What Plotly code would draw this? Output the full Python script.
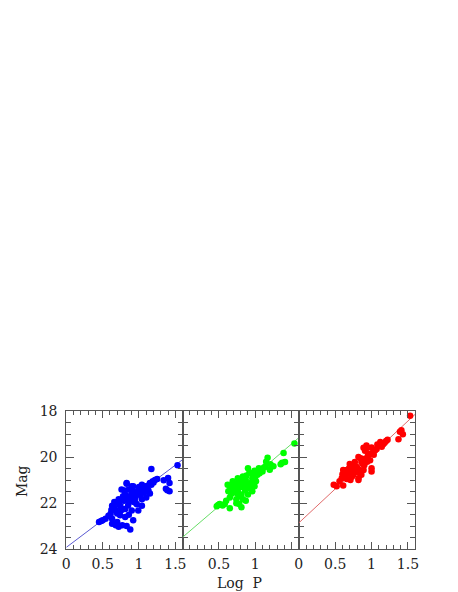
import plotly.graph_objects as go

# ---- data ----
blue_logp = [1.53, 1.17, 1.40, 1.34, 1.42, 1.37, 1.42, 1.22, 1.17, 1.15, 1.08, 1.04, 0.99, 1.10, 1.04, 0.97,
             0.90, 0.92, 0.83, 0.76, 0.81, 0.88, 0.95, 0.86, 0.79, 0.72, 0.68, 0.63, 0.74, 0.81, 0.90, 0.99,
             0.68, 0.61, 0.74, 0.81, 0.92, 0.63, 0.70, 0.50, 0.54, 0.77, 0.83, 0.88, 0.72, 0.63, 1.04, 1.10,
             1.15, 1.01, 0.86, 0.45, 0.48, 0.68, 0.92, 1.00, 1.06, 1.12, 0.95, 0.88, 0.78, 0.72, 0.66, 0.76,
             0.85, 0.93, 1.02, 1.13, 1.20, 0.80, 0.70, 0.58, 0.86, 0.97, 1.07, 0.62, 0.66, 0.84, 0.90, 0.75,
             1.25, 1.39, 1.19, 0.83]
blue_mag = [20.35, 20.52, 20.91, 21.01, 21.13, 21.38, 21.48, 20.99, 21.20, 21.58, 21.34, 21.20, 21.44, 21.76, 21.83, 21.62,
            21.27, 21.48, 21.13, 21.41, 21.62, 21.69, 21.97, 21.97, 21.90, 21.83, 21.97, 22.11, 22.11, 22.25, 22.32, 22.32,
            22.32, 22.46, 22.53, 22.60, 22.74, 22.68, 22.82, 22.74, 22.68, 22.96, 22.99, 23.14, 23.03, 22.89, 22.11, 21.27,
            21.13, 21.55, 21.41, 22.82, 22.78, 22.96, 21.27, 21.30, 21.38, 21.24, 21.75, 21.85, 21.70, 22.00, 22.20, 22.30,
            22.10, 21.95, 21.65, 21.45, 21.10, 21.45, 22.45, 22.55, 22.50, 22.05, 21.55, 22.30, 21.95, 21.80, 21.55, 22.20,
            20.95, 21.44, 21.05, 21.16]

green_logp = [1.54, 1.39, 1.35, 1.41, 1.37, 1.17, 1.21, 1.14, 1.05, 1.10, 0.99, 1.03, 0.90, 0.92, 0.96, 1.01,
              0.99, 0.94, 0.87, 0.83, 0.76, 0.78, 0.85, 0.74, 0.69, 0.65, 0.63, 0.69, 0.76, 0.81, 0.90, 0.96,
              0.65, 0.74, 0.83, 0.78, 0.74, 0.60, 0.58, 0.51, 0.47, 0.65, 0.81, 0.87, 1.08, 1.12, 0.95, 0.88,
              0.80, 0.72, 0.70, 0.80, 0.86, 0.92, 1.00, 1.06, 0.67, 0.78, 0.84, 0.73, 1.15, 1.25, 0.62, 0.97,
              0.88, 0.76, 1.20, 1.04, 0.55, 0.49]
green_mag = [19.41, 19.82, 20.31, 20.21, 20.25, 20.03, 20.31, 20.42, 20.49, 20.63, 20.59, 20.77, 20.49, 20.67, 20.92, 21.05,
             21.27, 21.13, 20.99, 20.84, 20.92, 21.13, 21.27, 21.27, 21.05, 21.27, 21.48, 21.55, 21.48, 21.62, 21.62, 21.48,
             21.76, 21.83, 21.83, 22.04, 22.00, 21.90, 22.04, 22.04, 22.14, 22.22, 22.18, 21.90, 20.55, 20.45, 20.70, 20.80,
             21.00, 21.15, 21.35, 21.30, 21.45, 21.35, 20.85, 20.70, 21.60, 21.70, 21.10, 21.40, 20.20, 20.40, 21.20, 21.05,
             21.20, 21.60, 20.55, 20.62, 22.10, 22.08]

red_logp = [1.53, 1.41, 1.43, 1.37, 1.39, 1.20, 1.16, 1.11, 1.18, 1.07, 1.00, 1.02, 0.93, 0.91, 0.95, 0.91,
            0.98, 0.86, 0.82, 0.77, 0.79, 0.75, 0.71, 0.66, 0.61, 0.68, 0.75, 0.84, 0.89, 1.00, 1.00, 0.64,
            0.59, 0.71, 0.82, 0.86, 0.48, 0.52, 0.61, 0.82, 1.14, 1.05, 0.97, 0.88, 0.80, 0.72, 0.70, 0.76,
            0.83, 0.90, 0.94, 1.08, 1.12, 1.22, 0.66, 0.60, 0.73, 0.78, 0.85, 0.93, 0.89, 1.03, 0.56, 0.69]
red_mag = [18.21, 18.83, 19.01, 19.23, 18.90, 19.30, 19.44, 19.51, 19.38, 19.65, 19.58, 19.79, 19.62, 19.72, 19.93, 20.07,
           20.14, 20.21, 20.00, 20.21, 20.42, 20.56, 20.42, 20.56, 20.56, 20.70, 20.77, 20.70, 20.56, 20.49, 20.63, 20.84,
           20.92, 20.99, 20.92, 20.77, 21.20, 21.27, 21.23, 20.99, 19.55, 19.70, 19.85, 20.30, 20.45, 20.60, 20.30, 20.35,
           20.55, 20.35, 20.20, 19.45, 19.35, 19.25, 20.95, 20.75, 20.85, 20.65, 20.05, 19.50, 19.60, 19.90, 21.05, 20.50]

fit_logp = [0.0, 1.6]
blue_fit = [23.92, 20.11]
green_fit = [23.48, 19.16]
red_fit = [22.86, 18.14]

x_ticks = [0, 0.5, 1, 1.5]
x_text_outer = ["0", "0.5", "1", "1.5"]
x_text_middle = ["", "0.5", "1", ""]
y_ticks = [18, 20, 22, 24]
y_text = ["18", "20", "22", "24"]

# ---- figure ----
XOFF = 8  # page offset observed horizontally
W, H = 458 - XOFF, 592
fig = go.Figure()

panels = [
    (blue_logp, blue_mag, blue_fit, "#0000ff", "#5a5ad2", "x", "y"),
    (green_logp, green_mag, green_fit, "#00ff00", "#66dd66", "x2", "y2"),
    (red_logp, red_mag, red_fit, "#ff0000", "#e06a6a", "x3", "y3"),
]
for lp, mg, fit, mc, lc, xa, ya in panels:
    fig.add_trace(go.Scatter(x=fit_logp, y=fit, mode="lines", line=dict(color=lc, width=1),
                             xaxis=xa, yaxis=ya, showlegend=False, hoverinfo="skip"))
    fig.add_trace(go.Scatter(x=lp, y=mg, mode="markers", marker=dict(color=mc, size=6.5, line=dict(width=0)),
                             xaxis=xa, yaxis=ya, showlegend=False))

font = dict(family="DejaVu Serif", size=14, color="#222")
axcol = "#555"
left = [63.3 - XOFF, 181.7 - XOFF, 300.0 - XOFF]
right = [181.7 - XOFF, 300.0 - XOFF, 418.5 - XOFF]
top, bottom = 406, 548
ydom = [1 - bottom / H, 1 - top / H]

layout = dict(width=W, height=H, margin=dict(l=0, r=0, t=0, b=0),
              paper_bgcolor="white", plot_bgcolor="white", showlegend=False)
for i in range(3):
    sfx = "" if i == 0 else str(i + 1)
    layout["xaxis" + sfx] = dict(
        domain=[left[i] / W, right[i] / W], range=[0, 1.6], anchor="y" + sfx,
        showgrid=False, zeroline=False, showline=True, linecolor=axcol, linewidth=1, mirror="ticks",
        ticks="inside", ticklen=7, tickcolor=axcol, tickwidth=1, ticklabelstandoff=2,
        tickvals=x_ticks, ticktext=(x_text_middle if i == 1 else x_text_outer), tickfont=font,
        minor=dict(dtick=0.1, tick0=0, ticks="inside", ticklen=4, tickcolor=axcol, tickwidth=1, showgrid=False),
    )
    layout["yaxis" + sfx] = dict(
        domain=ydom, range=[24, 18], anchor="x" + sfx,
        showgrid=False, zeroline=False, showline=True, linecolor=axcol, linewidth=1, mirror="ticks",
        ticks="inside", ticklen=8, tickcolor=axcol, tickwidth=1, ticklabelstandoff=5,
        tickvals=y_ticks, ticktext=y_text, tickfont=font, showticklabels=(i == 0),
        minor=dict(dtick=0.5, tick0=18, ticks="inside", ticklen=5, tickcolor=axcol, tickwidth=1, showgrid=False),
    )
fig.update_layout(**layout)

fig.add_annotation(text="Mag", x=0, y=1 - 478 / H, xref="paper", yref="paper",
                   textangle=-90, showarrow=False, font=font, xanchor="left", yanchor="middle")
fig.add_annotation(text="Log\u00a0 P", x=(240 - XOFF) / W, y=1 - 583 / H, xref="paper", yref="paper",
                   showarrow=False, font=font, xanchor="center", yanchor="middle")

fig.write_html("out.html")
